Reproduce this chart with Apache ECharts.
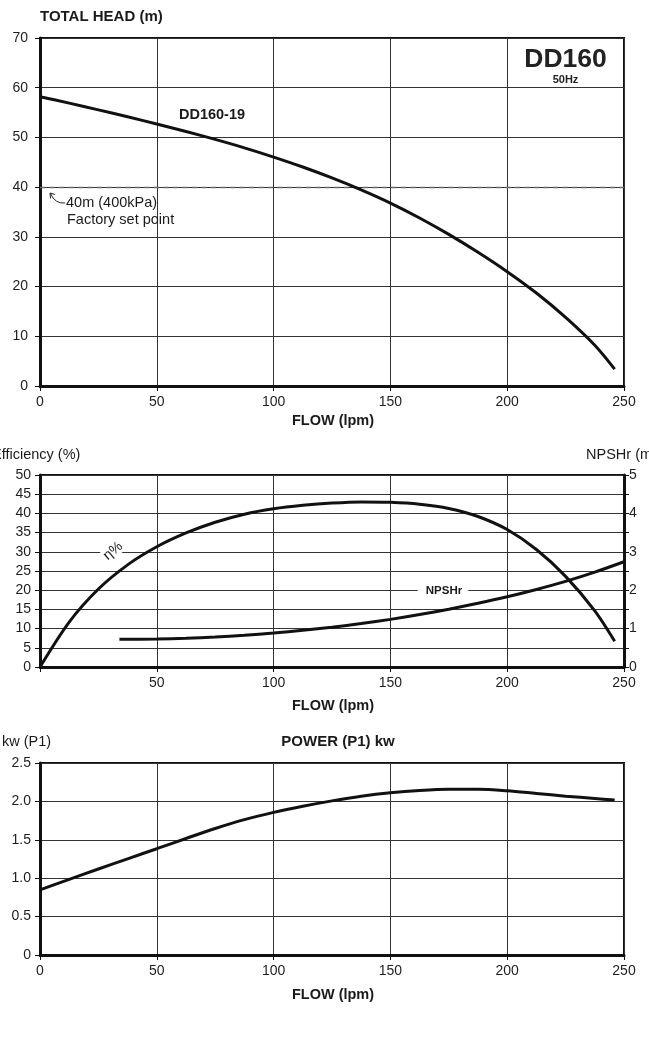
<!DOCTYPE html>
<html>
<head>
<meta charset="utf-8">
<script src="https://cdn.jsdelivr.net/npm/echarts@6/dist/echarts.min.js"></script>
<style>
  html, body { margin: 0; padding: 0; background: #fff; }
  #chart { width: 649px; height: 1037px; }
</style>
</head>
<body>
<div id="chart"></div>
<script>
// flow (lpm) vs total head (m)
const headFlow = [0, 12.5, 25, 37.5, 50, 62.5, 75, 87.5, 100, 112.5, 125, 137.5, 150, 162.5, 175, 187.5, 200, 212.5, 225, 237.5, 246];
const headVals = [58.2, 56.9, 55.55, 54.15, 52.7, 51.2, 49.6, 47.9, 46.05, 44.05, 41.85, 39.45, 36.8, 33.8, 30.5, 26.9, 23.0, 18.7, 13.8, 8.2, 3.4];
const setPoint = 40;

// efficiency (%) and NPSHr (m)
const effFlow = [0, 12.5, 25, 37.5, 50, 62.5, 75, 87.5, 100, 112.5, 125, 137.5, 150, 162.5, 175, 187.5, 200, 212.5, 225, 237.5, 246];
const effVals = [0, 11.7, 20.3, 26.6, 31.3, 34.9, 37.7, 39.8, 41.2, 42.1, 42.7, 43.0, 42.9, 42.4, 41.3, 39.2, 35.8, 30.6, 23.6, 14.6, 6.7];
const npshFlow = [34, 50, 62.5, 75, 87.5, 100, 112.5, 125, 137.5, 150, 162.5, 175, 187.5, 200, 212.5, 225, 237.5, 250];
const npshVals = [0.72, 0.73, 0.75, 0.78, 0.825, 0.885, 0.955, 1.035, 1.13, 1.24, 1.365, 1.505, 1.66, 1.83, 2.02, 2.23, 2.47, 2.74];

// power P1 (kw)
const powFlow = [0, 12.5, 25, 37.5, 50, 62.5, 75, 87.5, 100, 112.5, 125, 137.5, 150, 162.5, 175, 187.5, 200, 212.5, 225, 237.5, 246];
const powVals = [0.848, 0.985, 1.12, 1.252, 1.384, 1.517, 1.647, 1.762, 1.857, 1.937, 2.007, 2.067, 2.112, 2.142, 2.158, 2.158, 2.138, 2.103, 2.068, 2.038, 2.018];

const font = 'Liberation Sans, Arial, sans-serif';
const pair = (xs, ys) => xs.map((x, i) => [x, ys[i]]);

const chart = echarts.init(document.getElementById('chart'));

const gridLine = { show: true, lineStyle: { color: '#333', width: 1 } };
const label = { color: '#1e1e1e', fontSize: 14, fontFamily: font };

function xAx(gi, opts) {
  return Object.assign({
    type: 'value', gridIndex: gi, min: 0, max: 250, interval: 50,
    axisLine: { show: true, onZero: false, lineStyle: { color: '#111', width: 3 } },
    axisTick: { show: true, length: 5, lineStyle: { color: '#111' } },
    axisLabel: Object.assign({ margin: 9 }, label),
    splitLine: gridLine
  }, opts || {});
}
function yAx(gi, opts) {
  return Object.assign({
    type: 'value', gridIndex: gi,
    axisLine: { show: true, onZero: false, lineStyle: { color: '#111', width: 3 } },
    axisTick: { show: true, length: 5, lineStyle: { color: '#111' } },
    axisLabel: Object.assign({ margin: 12 }, label),
    splitLine: gridLine
  }, opts || {});
}

const curve = { type: 'line', smooth: 0.3, symbol: 'none', lineStyle: { color: '#111', width: 3 }, z: 5 };

function txt(x, y, text, fontSpec, extra) {
  return Object.assign({
    type: 'text', x: x, y: y, z: 10,
    style: Object.assign({ text: text, font: fontSpec, fill: '#1a1a1a', textVerticalAlign: 'middle' }, (extra && extra.style) || {})
  }, (extra && extra.el) || {});
}

chart.setOption({
  animation: false,
  grid: [
    { left: 40, top: 38, width: 584, height: 348, show: true, borderColor: '#111', borderWidth: 2 },
    { left: 40, top: 475, width: 584, height: 192, show: true, borderColor: '#111', borderWidth: 2 },
    { left: 40, top: 763, width: 584, height: 192, show: true, borderColor: '#111', borderWidth: 2 }
  ],
  xAxis: [
    xAx(0),
    xAx(1, { axisLabel: Object.assign({ margin: 9, formatter: v => v === 0 ? '' : v }, label) }),
    xAx(2)
  ],
  yAxis: [
    yAx(0, { min: 0, max: 70, interval: 10 }),
    yAx(1, { min: 0, max: 50, interval: 5, axisLabel: Object.assign({ margin: 9 }, label) }),
    yAx(1, {
      position: 'right', min: 0, max: 5, interval: 0.5,
      axisLabel: Object.assign({ margin: 5, formatter: v => Number.isInteger(v) ? v : '' }, label),
      splitLine: { show: false }
    }),
    yAx(2, { min: 0, max: 2.5, interval: 0.5,
      axisLabel: Object.assign({ margin: 9, formatter: v => v === 0 ? '0' : v.toFixed(1) }, label) })
  ],
  series: [
    Object.assign({}, curve, {
      name: 'DD160-19', xAxisIndex: 0, yAxisIndex: 0, data: pair(headFlow, headVals),
      markLine: {
        silent: true, symbol: 'none', label: { show: false },
        lineStyle: { color: '#6a6a6a', type: [5, 4.5], width: 1.3 },
        data: [{ yAxis: setPoint }]
      }
    }),
    Object.assign({}, curve, { name: 'η%', xAxisIndex: 1, yAxisIndex: 1, data: pair(effFlow, effVals) }),
    Object.assign({}, curve, { name: 'NPSHr', xAxisIndex: 1, yAxisIndex: 2, data: pair(npshFlow, npshVals) }),
    Object.assign({}, curve, { name: 'P1', xAxisIndex: 2, yAxisIndex: 3, data: pair(powFlow, powVals) })
  ],
  graphic: [
    // top chart
    txt(40, 17, 'TOTAL HEAD (m)', 'bold 15px ' + font),
    txt(565.5, 60, 'DD160', 'bold 26.5px ' + font, { style: { textAlign: 'center', fill: '#222' } }),
    txt(565.5, 79.5, '50Hz', 'bold 11px ' + font, { style: { textAlign: 'center', fill: '#222' } }),
    txt(212, 115, 'DD160-19', 'bold 14.5px ' + font, { style: { textAlign: 'center' } }),
    txt(66, 203, '40m (400kPa)', '14.5px ' + font),
    txt(67, 220, 'Factory set point', '14.5px ' + font),
    { type: 'bezierCurve', z: 10, shape: { x1: 65, y1: 203, x2: 50.5, y2: 193.5, cpx1: 55, cpy1: 204 },
      style: { stroke: '#222', lineWidth: 1, fill: null } },
    { type: 'polyline', z: 10, shape: { points: [[50.5, 198.5], [50, 193], [55, 194.5]] },
      style: { stroke: '#222', lineWidth: 1, fill: null } },
    txt(333, 421, 'FLOW (lpm)', 'bold 14.5px ' + font, { style: { textAlign: 'center' } }),
    // middle chart
    txt(-8, 455, 'Efficiency (%)', '14.5px ' + font),
    txt(586, 455, 'NPSHr (m)', '14.5px ' + font),
    txt(113, 551, 'η%', '14px ' + font, {
      style: { textAlign: 'center', backgroundColor: '#fff', padding: [0, 8] },
      el: { rotation: Math.PI * 40 / 180 }
    }),
    txt(443, 591, 'NPSHr', 'bold 11.5px ' + font, { style: { textAlign: 'center', backgroundColor: '#fff', padding: [1, 6, 1, 8] } }),
    txt(333, 706, 'FLOW (lpm)', 'bold 14.5px ' + font, { style: { textAlign: 'center' } }),
    // bottom chart
    txt(2, 742, 'kw (P1)', '14.5px ' + font),
    txt(338, 742, 'POWER (P1) kw', 'bold 15px ' + font, { style: { textAlign: 'center' } }),
    txt(333, 995, 'FLOW (lpm)', 'bold 14.5px ' + font, { style: { textAlign: 'center' } })
  ]
});
</script>
</body>
</html>
